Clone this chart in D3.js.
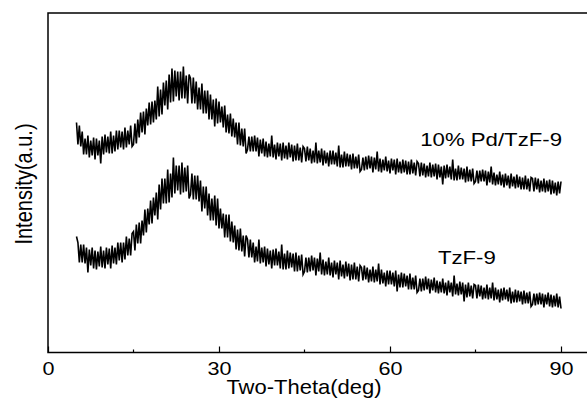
<!DOCTYPE html>
<html>
<head>
<meta charset="utf-8">
<script src="https://cdn.jsdelivr.net/npm/d3@7"></script>
<style>
  html, body { margin: 0; padding: 0; background: #fff; }
  svg { display: block; font-family: Arial, "Liberation Sans", sans-serif; }
</style>
</head>
<body>
<div id="chart"></div>
<script>
// Scan grid of the diffractometer (deg 2-theta)
const twoThetaStart = 5;
const twoThetaStep = 0.25;

// 10% Pd/TzF-9, intensity (a.u.), one value per step from 5 to 90 deg
const pdTzfIntensity = [
  230, 208, 227, 206, 221, 198, 214, 198, 217, 195,
  212, 197, 215, 193, 214, 197, 212, 189, 216, 198,
  218, 200, 216, 199, 221, 199, 217, 201, 222, 203,
  222, 205, 221, 203, 225, 205, 222, 208, 227, 206,
  208, 229, 209, 233, 215, 240, 220, 241, 218, 244,
  227, 250, 228, 251, 230, 252, 233, 266, 236, 263,
  238, 270, 247, 272, 243, 278, 250, 284, 251, 282,
  256, 281, 252, 281, 254, 286, 254, 277, 249, 278,
  274, 249, 275, 249, 271, 243, 265, 243, 269, 239,
  262, 239, 262, 233, 258, 233, 253, 226, 254, 229,
  251, 230, 246, 225, 247, 220, 238, 219, 239, 216,
  234, 215, 230, 208, 230, 207, 224, 206, 224, 199,
  203, 216, 201, 216, 201, 217, 201, 215, 196, 213,
  199, 214, 196, 211, 195, 209, 196, 217, 195, 208,
  193, 210, 196, 209, 192, 210, 194, 207, 193, 210,
  195, 208, 191, 207, 192, 209, 192, 205, 190, 206,
  204, 191, 206, 192, 204, 189, 202, 190, 210, 189,
  202, 190, 204, 187, 202, 189, 200, 186, 202, 188,
  202, 188, 200, 186, 207, 185, 198, 185, 201, 186,
  199, 186, 198, 183, 199, 184, 196, 184, 198, 181,
  183, 195, 182, 196, 183, 197, 184, 196, 180, 195,
  183, 201, 181, 194, 180, 193, 182, 196, 181, 192,
  179, 194, 182, 193, 178, 194, 180, 191, 179, 193,
  180, 192, 178, 191, 178, 193, 179, 190, 177, 191,
  189, 176, 190, 177, 189, 175, 187, 176, 190, 175,
  188, 176, 189, 173, 188, 175, 186, 168, 187, 174,
  188, 175, 186, 173, 193, 172, 184, 172, 187, 173,
  185, 173, 184, 170, 186, 171, 183, 171, 184, 169,
  171, 182, 169, 182, 171, 183, 171, 182, 167, 181,
  170, 186, 168, 180, 167, 178, 168, 181, 167, 178,
  165, 179, 167, 177, 164, 179, 166, 176, 164, 178,
  165, 176, 163, 175, 163, 177, 163, 174, 161, 175,
  174, 161, 175, 163, 174, 160, 172, 161, 174, 160,
  172, 161, 173, 158, 172, 159, 170, 157, 171, 159,
  171
];

// TzF-9, intensity (a.u.), same grid
const tzfIntensity = [
  116, 110, 90, 108, 90, 108, 89, 105, 80, 103,
  87, 105, 84, 102, 83, 101, 86, 106, 85, 102,
  84, 105, 88, 104, 84, 107, 89, 105, 88, 110,
  92, 110, 90, 110, 93, 116, 97, 114, 97, 119,
  121, 102, 128, 109, 130, 109, 132, 117, 143, 120,
  144, 128, 152, 129, 155, 137, 160, 133, 168, 143,
  174, 149, 174, 149, 183, 150, 179, 155, 195, 159,
  187, 162, 187, 158, 190, 160, 185, 161, 187, 154,
  158, 179, 153, 177, 153, 177, 151, 172, 141, 166,
  144, 166, 137, 159, 132, 154, 132, 157, 127, 154,
  124, 144, 124, 139, 115, 138, 115, 138, 111, 131,
  110, 127, 103, 123, 102, 124, 101, 117, 96, 117,
  113, 95, 113, 95, 110, 90, 106, 91, 113, 89,
  105, 90, 106, 86, 104, 88, 102, 84, 103, 87,
  104, 87, 101, 84, 108, 83, 99, 83, 102, 84,
  100, 85, 99, 81, 100, 81, 97, 82, 98, 78,
  81, 95, 80, 95, 81, 97, 82, 95, 77, 94,
  81, 100, 78, 93, 77, 91, 78, 95, 77, 90,
  75, 92, 78, 90, 73, 92, 76, 88, 74, 91,
  76, 89, 72, 88, 73, 90, 73, 86, 71, 87,
  85, 72, 87, 73, 85, 70, 83, 71, 86, 70,
  83, 71, 89, 68, 83, 69, 80, 66, 82, 68,
  82, 68, 80, 66, 82, 61, 78, 65, 80, 65,
  79, 66, 77, 63, 79, 63, 75, 63, 77, 60,
  62, 74, 61, 74, 62, 76, 63, 74, 59, 73,
  62, 75, 60, 72, 59, 71, 60, 74, 59, 70,
  57, 72, 60, 70, 56, 77, 58, 69, 57, 71,
  58, 70, 51, 68, 55, 70, 56, 67, 54, 68,
  67, 54, 68, 56, 67, 53, 65, 54, 68, 53,
  65, 54, 70, 52, 65, 53, 63, 50, 64, 52,
  65, 53, 63, 51, 65, 49, 61, 50, 63, 50,
  62, 51, 61, 48, 62, 49, 60, 49, 61, 46,
  48, 59, 47, 59, 48, 60, 48, 59, 45, 58,
  48, 60, 46, 58, 45, 57, 46, 59, 45, 56,
  44
];

// Axis ticks and texts
const majorTicks = [0, 30, 60, 90];
const minorTicks = [15, 45, 75];
const seriesLabels = ['10% Pd/TzF-9', 'TzF-9'];
const xTitle = 'Two-Theta(deg)';
const yTitle = 'Intensity(a.u.)';

// Canvas and plot frame
const width = 587, height = 399;
const frame = { left: 48, top: 13, bottom: 352.5, right: 592 };
const stretch = 1.2; // the original figure is a bit wider than tall

const svg = d3.select('#chart')
  .append('svg')
    .attr('width', width)
    .attr('height', height);

const x = d3.scaleLinear().domain([0, 90]).range([frame.left, 561]);
const y = d3.scaleLinear().domain([0, 340]).range([frame.bottom, frame.bottom - 340]);

// Pair each intensity with its 2-theta
const toPoints = arr => arr.map((v, i) => [twoThetaStart + i * twoThetaStep, v]);
const series = [toPoints(pdTzfIntensity), toPoints(tzfIntensity)];

const line = d3.line()
  .x(d => x(d[0]))
  .y(d => y(d[1]));

svg.append('g')
  .selectAll('path')
  .data(series)
  .join('path')
    .attr('d', line)
    .attr('fill', 'none')
    .attr('stroke', '#000')
    .attr('stroke-width', 1.6);

// Frame: left, top and bottom lines (right edge falls outside the picture)
svg.append('path')
  .attr('d', `M${frame.right},${frame.top}H${frame.left}V${frame.bottom}H${frame.right}`)
  .attr('fill', 'none')
  .attr('stroke', '#000')
  .attr('stroke-width', 1.5);

// X axis: major ticks pointing inward with labels
const xAxis = d3.axisBottom(x)
  .tickValues(majorTicks)
  .tickFormat(d3.format('d'))
  .tickSizeInner(-6)
  .tickSizeOuter(0)
  .tickPadding(9.7);

const xGroup = svg.append('g')
  .attr('transform', `translate(0,${frame.bottom})`)
  .call(xAxis);
xGroup.select('.domain').remove();
xGroup.selectAll('.tick line').attr('stroke-width', 1.2);
xGroup.selectAll('.tick text')
  .attr('font-size', 18)
  .attr('font-family', 'Arial, "Liberation Sans", sans-serif')
  .attr('fill', '#000')
  .attr('transform', `scale(${stretch},1)`);

// Minor ticks
svg.append('g')
  .selectAll('line')
  .data(minorTicks)
  .join('line')
    .attr('x1', d => x(d)).attr('x2', d => x(d))
    .attr('y1', frame.bottom).attr('y2', frame.bottom - 3)
    .attr('stroke', '#000')
    .attr('stroke-width', 1.2);

// Axis titles
svg.append('text')
  .attr('transform', `translate(304,394) scale(1.1,1)`)
  .attr('text-anchor', 'middle')
  .attr('font-size', 20)
  .text(xTitle);

svg.append('text')
  .attr('transform', `translate(32,184) scale(${stretch},1) rotate(-90)`)
  .attr('text-anchor', 'middle')
  .attr('font-size', 20)
  .text(yTitle);

// Series labels next to the curve tails
const labelPos = [[65.3, 207], [68.4, 89]];
svg.append('g')
  .selectAll('text')
  .data(seriesLabels)
  .join('text')
    .attr('transform', (d, i) => `translate(${x(labelPos[i][0])},${y(labelPos[i][1])}) scale(${stretch},1)`)
    .attr('font-size', 18.5)
    .text(d => d);
</script>
</body>
</html>
